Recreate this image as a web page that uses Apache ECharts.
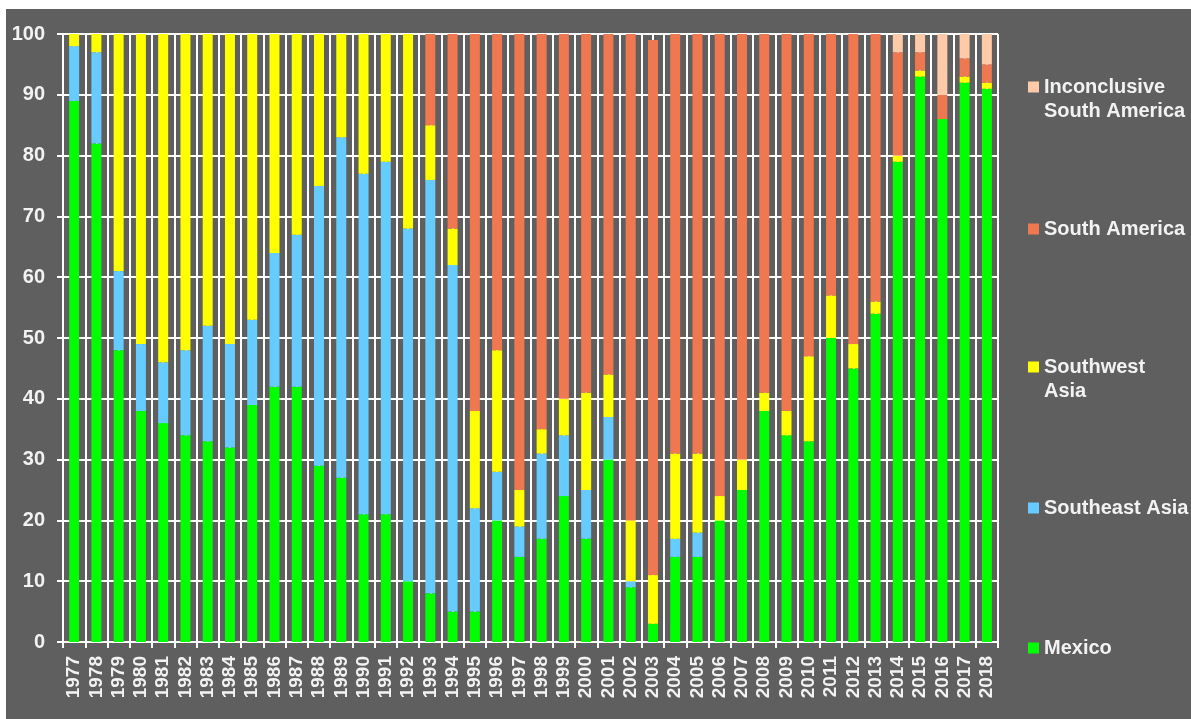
<!DOCTYPE html>
<html lang="en">
<head>
  <meta charset="utf-8">
  <script src="https://cdn.jsdelivr.net/npm/echarts@6/dist/echarts.min.js"></script>
</head>
<body style="margin: 0; background: #ffffff">
  <div id="container" style="position: absolute; left: 6px; top: 9px; width: 1185px; height: 710px; background: #5f5f5f"></div>

  <script type="text/javascript">
    var years = ['1977', '1978', '1979', '1980', '1981', '1982', '1983', '1984', '1985', '1986',
      '1987', '1988', '1989', '1990', '1991', '1992', '1993', '1994', '1995', '1996',
      '1997', '1998', '1999', '2000', '2001', '2002', '2003', '2004', '2005', '2006',
      '2007', '2008', '2009', '2010', '2011', '2012', '2013', '2014', '2015', '2016',
      '2017', '2018'];

    // percent of samples by source region
    var mexico = [89, 82, 48, 38, 36, 34, 33, 32, 39, 42, 42, 29, 27, 21, 21, 10, 8, 5, 5, 20,
      14, 17, 24, 17, 30, 9, 3, 14, 14, 20, 25, 38, 34, 33, 50, 45, 54, 79, 93, 86, 92, 91];
    var southeastAsia = [9, 15, 13, 11, 10, 14, 19, 17, 14, 22, 25, 46, 56, 56, 58, 58, 68, 57, 17, 8,
      5, 14, 10, 8, 7, 1, 0, 3, 4, 0, 0, 0, 0, 0, 0, 0, 0, 0, 0, 0, 0, 0];
    var southwestAsia = [2, 3, 39, 51, 54, 52, 48, 51, 47, 36, 33, 25, 17, 23, 21, 32, 9, 6, 16, 20,
      6, 4, 6, 16, 7, 10, 8, 14, 13, 4, 5, 3, 4, 14, 7, 4, 2, 1, 1, 0, 1, 1];
    var southAmerica = [0, 0, 0, 0, 0, 0, 0, 0, 0, 0, 0, 0, 0, 0, 0, 0, 15, 32, 62, 52,
      75, 65, 60, 59, 56, 80, 88, 69, 69, 76, 70, 59, 62, 53, 43, 51, 44, 17, 3, 4, 3, 3];
    var inconclusiveSA = [0, 0, 0, 0, 0, 0, 0, 0, 0, 0, 0, 0, 0, 0, 0, 0, 0, 0, 0, 0,
      0, 0, 0, 0, 0, 0, 0, 0, 0, 0, 0, 0, 0, 0, 0, 0, 0, 3, 3, 10, 4, 5];

    var yTicks = [0, 10, 20, 30, 40, 50, 60, 70, 80, 90, 100];

    var dom = document.getElementById('container');
    var myChart = echarts.init(dom, null, { renderer: 'canvas' });

    var txt = '#f2f2f2';
    var font = 'Liberation Sans';

    // one legend per item so each can sit where the original has it;
    // a leading blank line keeps the swatch on the first text line
    function legendAt(name, top, label) {
      return {
        data: [name],
        left: 1022,
        top: top,
        padding: 0,
        itemWidth: 11,
        itemHeight: 11,
        itemGap: 0,
        icon: 'rect',
        selectedMode: false,
        formatter: function () { return label; },
        textStyle: { color: txt, fontFamily: font, fontWeight: 'bold', fontSize: 20, lineHeight: 24 }
      };
    }

    function barSeries(name, data, color) {
      return {
        name: name,
        type: 'bar',
        stack: 'total',
        barWidth: 10,
        xAxisIndex: 0,
        itemStyle: { color: color },
        data: data
      };
    }

    var option = {
      animation: false,
      backgroundColor: '#5f5f5f',
      grid: { left: 57, top: 25, width: 935, height: 608 },
      legend: [
        legendAt('Inconclusive South America', 42, '\nInconclusive\nSouth America'),
        legendAt('South America', 208, 'South America'),
        legendAt('Southwest Asia', 322, '\nSouthwest\nAsia'),
        legendAt('Southeast Asia', 487, 'Southeast Asia'),
        legendAt('Mexico', 627, 'Mexico')
      ],
      xAxis: [
        {
          type: 'category',
          data: years,
          axisLine: { lineStyle: { color: '#ffffff', width: 2 } },
          axisTick: { show: true, length: 6, lineStyle: { color: '#ffffff', width: 2 } },
          axisLabel: {
            interval: 0,
            rotate: 90,
            margin: 14,
            color: txt,
            fontFamily: font,
            fontWeight: 'bold',
            fontSize: 19
          },
          splitLine: { show: false }
        },
        {
          // half-category grid lines (boundaries and centers)
          type: 'value',
          min: 0,
          max: years.length * 2,
          interval: 1,
          position: 'bottom',
          axisLine: { show: false },
          axisTick: { show: false },
          axisLabel: { show: false },
          splitLine: { show: true, lineStyle: { color: '#ffffff', width: 2 } }
        }
      ],
      yAxis: {
        type: 'value',
        min: 0,
        max: 100,
        interval: 10,
        axisLine: { show: true, lineStyle: { color: '#ffffff', width: 2 } },
        axisTick: { show: true, length: 6, lineStyle: { color: '#ffffff', width: 2 } },
        axisLabel: {
          margin: 18,
          color: txt,
          fontFamily: font,
          fontWeight: 'bold',
          fontSize: 20,
          formatter: function (v) { return yTicks.indexOf(v) >= 0 ? String(v) : ''; }
        },
        splitLine: { lineStyle: { color: '#ffffff', width: 2 } }
      },
      series: [
        barSeries('Mexico', mexico, '#00ff00'),
        barSeries('Southeast Asia', southeastAsia, '#66ccff'),
        barSeries('Southwest Asia', southwestAsia, '#ffff00'),
        barSeries('South America', southAmerica, '#f07850'),
        barSeries('Inconclusive South America', inconclusiveSA, '#ffcaa8')
      ]
    };

    myChart.setOption(option);
    window.addEventListener('resize', myChart.resize);
  </script>
</body>
</html>
